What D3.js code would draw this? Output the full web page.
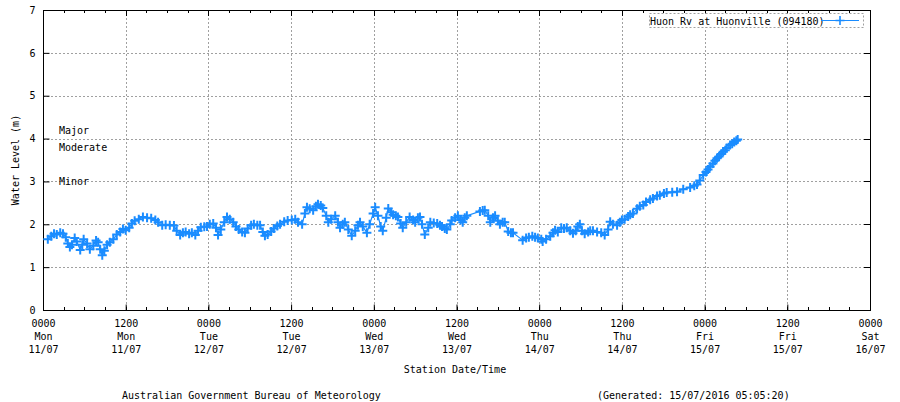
<!DOCTYPE html>
<html>
<head>
<meta charset="utf-8">
<script src="https://cdn.jsdelivr.net/npm/d3@7"></script>
<style>
  body { margin: 0; background: #fff; }
  text { font-family: "DejaVu Sans Mono", "Liberation Mono", monospace; font-size: 10px; fill: #000; }
</style>
</head>
<body>
<div id="chart"></div>
<script>
// hours since 0000 Mon 11/07/2016
var hours = [0.7,1.2,1.6,2.0,2.5,2.9,3.3,3.6,3.9,4.2,4.6,4.9,5.4,5.7,5.9,6.4,6.8,7.3,7.7,8.0,
  8.3,8.6,8.9,9.3,9.7,10.2,10.7,11.2,11.6,12.0,12.5,12.9,13.3,13.9,14.5,15.1,15.7,16.3,16.7,17.3,
  17.8,18.4,19.0,19.4,19.9,20.3,20.7,21.2,21.6,22.1,22.5,22.9,23.4,23.8,24.2,24.7,25.1,25.4,25.8,26.3,
  26.7,27.1,27.6,28.0,28.4,28.9,29.3,29.7,30.2,30.6,31.1,31.5,31.9,32.2,32.6,33.1,33.5,34.0,34.4,35.0,
  35.5,36.1,36.6,37.0,37.6,38.0,38.3,38.7,39.2,39.6,39.9,40.3,40.6,41.1,41.4,41.8,42.4,42.8,43.1,43.5,
  43.8,44.3,44.8,45.3,45.7,46.0,46.4,47.0,47.4,47.9,48.2,48.6,49.0,49.3,49.8,50.1,50.5,50.8,51.2,51.5,
  51.9,52.2,52.7,53.2,53.7,54.0,54.4,54.7,55.0,55.4,55.9,56.2,56.7,57.2,57.6,57.9,58.3,58.6,59.1,59.3,
  59.8,60.2,60.6,60.9,61.2,61.5,63.4,63.8,64.1,64.6,64.9,65.3,65.6,66.0,66.3,66.7,67.0,67.5,67.9,68.2,
  69.6,70.1,70.5,71.0,71.4,71.8,72.3,72.5,73.0,73.6,74.0,74.3,74.7,75.2,75.6,76.0,76.5,76.9,77.3,77.6,
  77.9,78.2,78.6,79.1,79.4,79.8,80.4,81.0,81.5,82.0,82.3,82.7,83.3,83.7,84.0,84.4,84.9,85.2,85.6,86.2,
  86.6,87.1,87.5,88.1,88.5,89.1,89.5,90.1,90.5,91.3,92.0,92.9,93.9,94.5,94.9,95.3,95.8,96.2,96.5,96.8,
  97.2,97.5,97.8,98.1,98.4,98.7,99.0,99.2,99.7,100.0,100.3,100.6,100.8];

// water level (m)
var levels = [1.65,1.72,1.78,1.76,1.80,1.78,1.70,1.55,1.47,1.52,1.68,1.60,1.40,1.52,1.65,1.55,1.42,1.50,1.62,1.58,
  1.42,1.28,1.38,1.52,1.58,1.65,1.76,1.82,1.89,1.86,1.92,2.02,2.08,2.12,2.17,2.15,2.14,2.10,2.05,1.98,
  1.99,1.98,1.97,1.85,1.75,1.80,1.82,1.78,1.80,1.75,1.85,1.93,1.94,1.95,2.00,2.02,1.92,1.75,1.88,2.05,
  2.17,2.12,2.05,1.95,1.88,1.82,1.80,1.90,1.98,2.00,1.98,1.98,1.82,1.73,1.76,1.83,1.90,1.96,2.00,2.06,
  2.09,2.10,2.12,2.05,2.00,2.25,2.40,2.36,2.33,2.42,2.47,2.44,2.38,2.20,2.05,2.12,2.20,2.05,1.92,2.00,
  2.05,1.88,1.73,1.85,1.98,2.05,1.95,1.80,2.00,2.25,2.40,2.20,1.95,1.85,2.15,2.37,2.28,2.22,2.20,2.17,
  2.02,1.92,2.05,2.17,2.10,2.05,2.15,2.17,2.00,1.76,1.92,2.05,2.03,2.02,1.98,1.95,1.90,1.88,2.00,2.09,
  2.15,2.20,2.10,2.05,2.15,2.20,2.30,2.32,2.33,2.20,2.05,2.15,2.20,2.08,2.00,2.05,2.05,1.83,1.80,1.80,
  1.63,1.68,1.70,1.72,1.70,1.68,1.65,1.60,1.65,1.72,1.80,1.86,1.82,1.92,1.90,1.92,1.85,1.79,1.85,1.95,
  2.00,1.85,1.78,1.82,1.85,1.85,1.82,1.80,1.75,1.88,2.06,2.00,1.98,2.05,2.10,2.12,2.18,2.22,2.25,2.36,
  2.42,2.45,2.52,2.57,2.60,2.66,2.68,2.72,2.74,2.75,2.76,2.82,2.86,2.90,2.93,3.02,3.15,3.22,3.28,3.34,
  3.42,3.48,3.54,3.58,3.64,3.69,3.73,3.78,3.85,3.88,3.92,3.95,3.98];

var floodNames = ["Major", "Moderate", "Minor"];
var floodLevels = [4.2, 3.8, 3.0];

var yTicks = [0, 1, 2, 3, 4, 5, 6, 7];
var seriesName = "Huon Rv at Huonville (094180)";
var xTitle = "Station Date/Time";
var yTitle = "Water Level (m)";
var footLeft = "Australian Government Bureau of Meteorology";
var footRight = "(Generated: 15/07/2016 05:05:20)";

var t0 = new Date(2016, 6, 11, 0, 0);
var t1 = new Date(2016, 6, 16, 0, 0);

var data = hours.map(function(h, i) {
  return { t: new Date(t0.getTime() + h * 3600000), v: levels[i] };
});

var W = 900, H = 402;
var plot = { left: 43, right: 870, top: 10, bottom: 310 };
var blue = "#1a8cff";

var svg = d3.select("#chart").append("svg")
  .attr("width", W).attr("height", H);

var x = d3.scaleTime().domain([t0, t1]).range([plot.left, plot.right]);
var y = d3.scaleLinear().domain([0, 7]).range([plot.bottom, plot.top]);

var majorTicks = d3.timeHour.every(12).range(t0, new Date(t1.getTime() + 1));
var minorTicks = d3.timeHour.every(3).range(t0, new Date(t1.getTime() + 1));

function px(v) { return Math.round(v) + 0.5; }

// grid
var grid = svg.append("g").attr("stroke", "#a0a0a0").attr("stroke-dasharray", "2,2")
  .attr("shape-rendering", "crispEdges");
grid.selectAll(".gx").data(majorTicks.slice(1, -1)).enter().append("line")
  .attr("x1", function(d) { return px(x(d)); })
  .attr("x2", function(d) { return px(x(d)); })
  .attr("y1", plot.top).attr("y2", plot.bottom);
grid.selectAll(".gy").data(yTicks.slice(1, -1)).enter().append("line")
  .attr("x1", plot.left).attr("x2", plot.right)
  .attr("y1", function(d) { return px(y(d)); })
  .attr("y2", function(d) { return px(y(d)); });

// y axis
var yAxis = svg.append("g").attr("transform", "translate(" + (plot.left + 0.5) + ",0)")
  .call(d3.axisLeft(y).tickValues(yTicks).tickFormat(d3.format("d"))
    .tickSizeInner(-6).tickSizeOuter(0).tickPadding(8));
yAxis.select(".domain").remove();
yAxis.selectAll("text").style("font-family", "DejaVu Sans Mono").style("font-size", "10px");

// mirrored y ticks on right
svg.append("g").attr("shape-rendering", "crispEdges").selectAll("line").data(yTicks).enter().append("line")
  .attr("x1", plot.right - 6).attr("x2", plot.right)
  .attr("y1", function(d) { return px(y(d)); })
  .attr("y2", function(d) { return px(y(d)); })
  .attr("stroke", "#000");

// x axis
var xAxis = svg.append("g").attr("transform", "translate(0," + (plot.bottom + 0.5) + ")")
  .call(d3.axisBottom(x).tickValues(majorTicks).tickSizeInner(-6).tickSizeOuter(0).tickPadding(9)
    .tickFormat(d3.timeFormat("%H%M")));
xAxis.select(".domain").remove();
xAxis.selectAll("text").style("font-family", "DejaVu Sans Mono").style("font-size", "10px");
xAxis.selectAll(".tick text").each(function(d) {
  var el = d3.select(this);
  el.append("tspan").attr("x", 0).attr("dy", "1.3em").text(d3.timeFormat("%a")(d));
  el.append("tspan").attr("x", 0).attr("dy", "1.3em").text(d3.timeFormat("%d/%m")(d));
});

// minor ticks bottom and top
var mt = svg.append("g").attr("stroke", "#000").attr("shape-rendering", "crispEdges");
mt.selectAll(".mb").data(minorTicks).enter().append("line")
  .attr("x1", function(d) { return px(x(d)); })
  .attr("x2", function(d) { return px(x(d)); })
  .attr("y1", plot.bottom - 3).attr("y2", plot.bottom);
mt.selectAll(".mt").data(majorTicks).enter().append("line")
  .attr("x1", function(d) { return px(x(d)); })
  .attr("x2", function(d) { return px(x(d)); })
  .attr("y1", plot.top).attr("y2", plot.top + 6);
mt.selectAll(".mt2").data(minorTicks).enter().append("line")
  .attr("x1", function(d) { return px(x(d)); })
  .attr("x2", function(d) { return px(x(d)); })
  .attr("y1", plot.top).attr("y2", plot.top + 3);

// border
svg.append("rect")
  .attr("x", plot.left + 0.5).attr("y", plot.top + 0.5)
  .attr("width", plot.right - plot.left).attr("height", plot.bottom - plot.top)
  .attr("fill", "none").attr("stroke", "#000").attr("shape-rendering", "crispEdges");

// flood level labels
svg.selectAll(".flood").data(floodNames).enter().append("text")
  .attr("x", 59)
  .attr("y", function(d, i) { return y(floodLevels[i]); })
  .attr("dy", "0.35em")
  .text(function(d) { return d; });

// series line
var line = d3.line().x(function(d) { return x(d.t); }).y(function(d) { return y(d.v); });
svg.append("path").datum(data)
  .attr("d", line).attr("fill", "none").attr("stroke", blue).attr("stroke-width", 1.2);

// cross markers
var cross = "M-4.5,0H4.5M0,-4.5V4.5";
svg.append("g").selectAll("path").data(data).enter().append("path")
  .attr("transform", function(d) { return "translate(" + x(d.t) + "," + y(d.v) + ")"; })
  .attr("d", cross).attr("stroke", blue).attr("stroke-width", 2).attr("fill", "none");

// legend
svg.append("rect")
  .attr("x", 649.5).attr("y", 13.5).attr("width", 214).attr("height", 14)
  .attr("fill", "#fff").attr("stroke", "#a0a0a0").attr("stroke-dasharray", "2,2");
svg.append("text").attr("x", 650).attr("y", 21).attr("dy", "0.35em").text(seriesName);
svg.append("line").attr("x1", 821).attr("x2", 859).attr("y1", 20.5).attr("y2", 20.5)
  .attr("stroke", blue);
svg.append("path").attr("transform", "translate(840,20.5)").attr("d", cross)
  .attr("stroke", blue).attr("stroke-width", 1.6);

// titles
svg.append("text").attr("x", 455).attr("y", 369).attr("dy", "0.35em")
  .attr("text-anchor", "middle").text(xTitle);
svg.append("text").attr("transform", "translate(15,160) rotate(-90)").attr("dy", "0.35em")
  .attr("text-anchor", "middle").text(yTitle);
svg.append("text").attr("x", 122).attr("y", 395).attr("dy", "0.35em").text(footLeft);
svg.append("text").attr("x", 597).attr("y", 395).attr("dy", "0.35em").text(footRight);
</script>
</body>
</html>
